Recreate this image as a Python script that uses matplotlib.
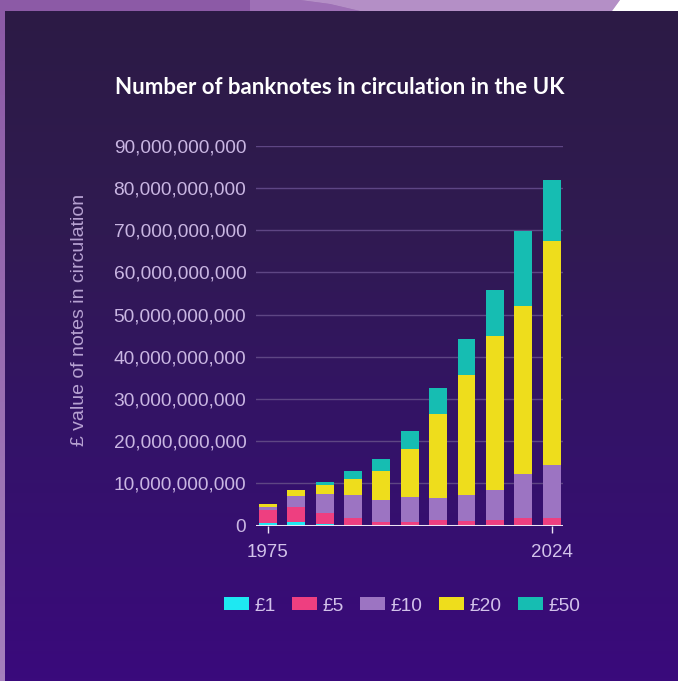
import numpy as np
import matplotlib
matplotlib.use('Agg')
import matplotlib.pyplot as plt
from matplotlib.ticker import FuncFormatter
from matplotlib.patches import Polygon

# values, in £ billions
years = ['1975', '1980', '1985', '1990', '1995', '2000', '2005', '2010', '2015', '2020', '2024']
notes = ['£1', '£5', '£10', '£20', '£50']
one = [0.7, 0.8, 0.3, 0, 0, 0, 0, 0, 0, 0, 0]
five = [3.0, 3.5, 2.7, 1.7, 0.8, 0.8, 1.2, 1.0, 1.2, 1.7, 1.7]
ten = [0.8, 2.8, 4.5, 5.5, 5.3, 5.9, 5.3, 6.2, 7.3, 10.5, 12.6]
twenty = [0.5, 1.2, 2.0, 3.8, 6.8, 11.4, 19.9, 28.4, 36.5, 39.8, 53.2]
fifty = [0, 0, 0.7, 2.0, 2.9, 4.2, 6.1, 8.7, 10.9, 17.7, 14.4]
colors = ['#1EE8F2', '#EE3F80', '#9C74C2', '#EEDD1C', '#16BDB2']

W, H = 678, 681
fig = plt.figure(figsize=(W / 100, H / 100), dpi=100)
fig.patch.set_facecolor('#8E5EA8')

# background: frame + dark gradient panel
bg = fig.add_axes([0, 0, 1, 1], zorder=-1)
bg.axis('off')
side = np.linspace(0, 1, 100).reshape(-1, 1)
bg.imshow(side, extent=[0, W, H, 0], aspect='auto',
          cmap=matplotlib.colors.LinearSegmentedColormap.from_list('s', ['#8C5AA6', '#A57FBC']))
bg.add_patch(Polygon([[250, 0], [300, 0], [330, 4], [360, 11], [250, 11]], color='#9E70B6', lw=0))
bg.add_patch(Polygon([[300, 0], [620, 0], [612, 11], [360, 11], [330, 4]], color='#B48FC6', lw=0))
bg.add_patch(Polygon([[620, 0], [W, 0], [W, 11], [612, 11]], color='white', lw=0))
grad = np.linspace(0, 1, 200).reshape(-1, 1)
panel_cmap = matplotlib.colors.LinearSegmentedColormap.from_list(
    'p', ['#2C1A45', '#301A52', '#34126A', '#3A0A7C'])
bg.imshow(grad, extent=[5, W, H, 11], aspect='auto', cmap=panel_cmap)
bg.set_xlim(0, W)
bg.set_ylim(H, 0)

ax = fig.add_axes([256 / W, 1 - 525.5 / H, 307 / W, 379.8 / H])
ax.set_facecolor('none')

x = np.arange(len(years))
series = [one, five, ten, twenty, fifty]
bottom = np.zeros(len(years))
for name, vals, c in zip(notes, series, colors):
    v = np.array(vals) * 1e9
    ax.bar(x, v, width=0.63, bottom=bottom, color=c, label=name, zorder=3)
    bottom += v

ax.set_ylim(0, 90e9)
ax.set_xlim(-0.42, 10.4)
ax.set_yticks(np.arange(0, 91e9, 10e9))
ax.yaxis.set_major_formatter(FuncFormatter(lambda v, p: f'{int(v):,}'))
ax.grid(axis='y', color='#5E4684', lw=1, zorder=0)
ax.axhline(0, color='#ECE4F4', lw=2.2, zorder=4)
for s in ax.spines.values():
    s.set_visible(False)

ax.set_xticks([0, 10])
ax.set_xticklabels([years[0], years[-1]])
ax.tick_params(axis='x', length=5, width=1, color='#ECE4F4', pad=8,
               labelsize=13.5, labelcolor='#D2C2EA')
ax.tick_params(axis='y', length=0, pad=7, labelsize=13.8, labelcolor='#C9B6E2')
for lab in ax.get_xticklabels() + ax.get_yticklabels():
    lab.set_family('Liberation Sans')

fig.text(340 / W, 1 - 88 / H, 'Number of banknotes in circulation in the UK',
         ha='center', va='center', color='white', fontsize=16, fontweight='bold',
         family='Lato')
fig.text(80 / W, 1 - 320 / H, '£ value of notes in circulation', rotation=90,
         ha='center', va='center', color='#B7A2D2', fontsize=14, family='Liberation Sans')

leg = fig.legend(loc='center', bbox_to_anchor=(402 / W, 1 - 606 / H), ncol=5,
                 frameon=False, handlelength=1.3, handleheight=0.65,
                 handletextpad=0.3, columnspacing=0.85,
                 prop={'family': 'Liberation Sans', 'size': 13.8})
for t in leg.get_texts():
    t.set_color('#D2C2EA')

fig.savefig('out.png', dpi=100, facecolor=fig.get_facecolor())
